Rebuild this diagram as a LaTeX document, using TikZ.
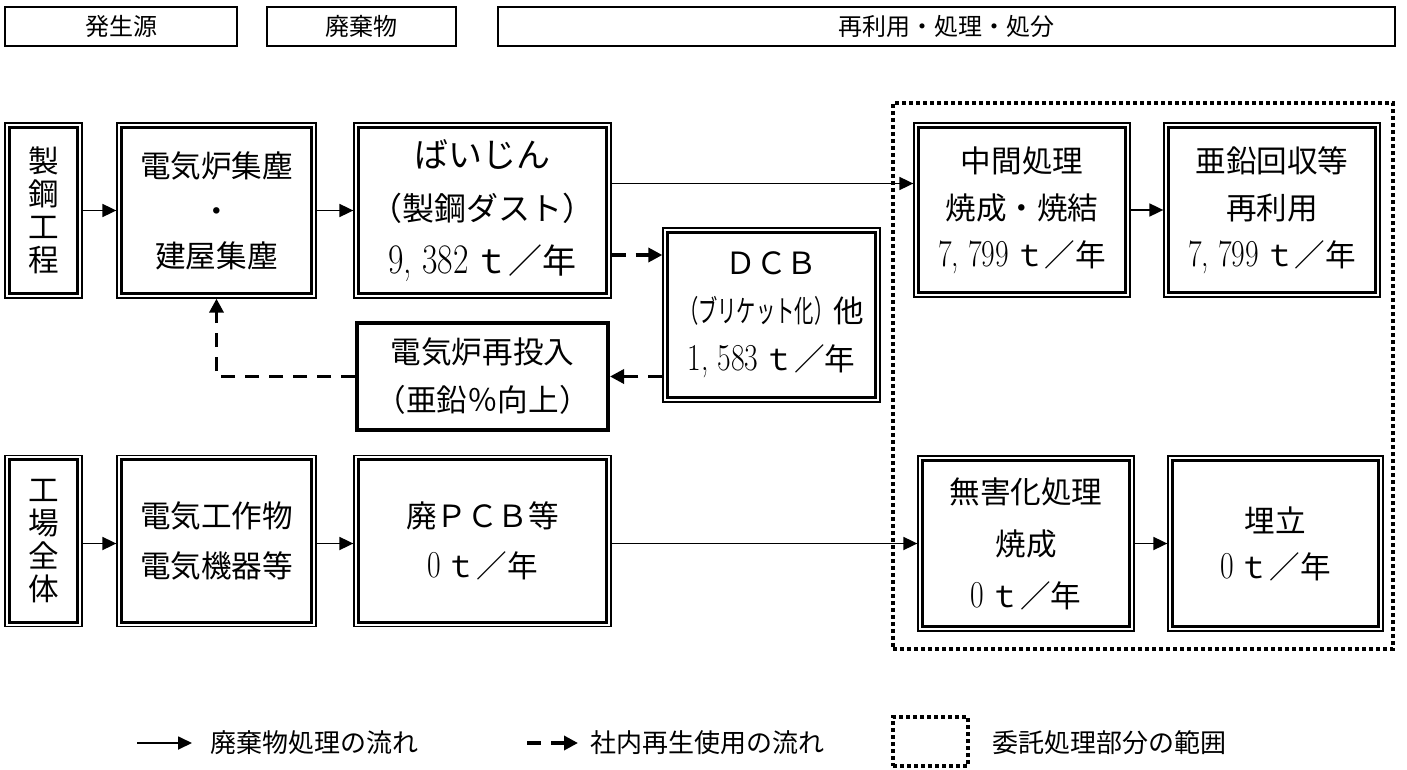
\documentclass[tikz,border=0pt]{standalone}
\usepackage{fontspec}
\usepackage{graphicx}
\newfontfamily\cjk{Noto Sans CJK JP}
\usetikzlibrary{arrows.meta}
\newcommand\nm[1]{\scalebox{0.78}[1]{\fontsize{19}{19}\selectfont\rmfamily #1}}
\newcommand\nmc[1]{\scalebox{0.8}[1]{\fontsize{21}{21}\selectfont\rmfamily #1}}
\begin{document}
\begin{tikzpicture}[x=0.5pt,y=-0.5pt,
  hdr/.style={draw, line width=0.65pt, inner sep=0pt, font=\fontsize{12}{14}\selectfont\cjk},
  dbox/.style={draw, line width=0.65pt, inner sep=0pt, align=center},
  fs/.style={font=\fontsize{15.3}{#1}\selectfont\cjk},
  sz/.style 2 args={minimum width=#1*0.5pt, minimum height=#2*0.5pt},
  arr/.style={line width=0.9pt, -{Triangle[length=7pt,width=6.5pt]}},
  dsh/.style={line width=1.7pt, dash pattern=on 7pt off 5pt, -{Triangle[length=7pt,width=7pt]}},
  dotf/.style={draw, line width=1.9pt, dash pattern=on 1.9pt off 1.6pt, inner sep=0pt},
  lg/.style={inner sep=0pt, font=\fontsize{13}{15}\selectfont\cjk},
]
\useasboundingbox (0,0) rectangle (1407,770);

% headers
\node[hdr, sz={232}{39}] (h1) at (121,26.5) {発生源};
\node[hdr, sz={189}{39}] (h2) at (361.5,26.5) {廃棄物};
\node[hdr, sz={897}{39}] (h3) at (946.5,26.5) {再利用・処理・処分};

% dotted frame
\node[dotf, sz={500}{546}] (R) at (1143,376) {};

% boxes
\node[dbox, fs=16.5pt, sz={77}{175}] (A) at (43.5,210.5) {製\\鋼\\工\\程};
\node[dbox, fs=22.5pt, sz={199}{175}] (B) at (216.5,210.5) {電気炉集塵\\・\\建屋集塵};
\node[dbox, font=\fontsize{17}{26.5pt}\selectfont\cjk, sz={257}{175}] (C) at (482.5,210.5) {ばいじん\\{\fontsize{16}{26.5pt}\selectfont （製鋼ダスト）}\\\nmc{9, 382}\,ｔ／年};
\node[dbox, fs=24pt, sz={217}{174}] (D) at (771.5,315) {ＤＣＢ\\\scalebox{0.63}[1]{（ブリケット化）}他\\\nm{1, 583}\,ｔ／年};
\node[draw, line width=2pt, inner sep=0pt, align=center, fs=24pt, sz={251}{107}] (E) at (482.5,376.5) {電気炉再投入\\（亜鉛％向上）};
\node[dbox, fs=23.5pt, sz={216}{174}] (F) at (1022,210) {中間処理\\焼成・焼結\\\nm{7, 799}\,ｔ／年};
\node[dbox, fs=23.5pt, sz={216}{174}] (G) at (1272,210) {亜鉛回収等\\再利用\\\nm{7, 799}\,ｔ／年};
\node[dbox, fs=16.5pt, sz={77}{171}] (H) at (43.5,541) {工\\場\\全\\体};
\node[dbox, fs=25pt, sz={199}{171}] (I) at (216.5,541) {電気工作物\\電気機器等};
\node[dbox, fs=25pt, sz={257}{171}] (J) at (482.5,541) {廃ＰＣＢ等\\\nm{0}\,ｔ／年};
\node[dbox, fs=26pt, sz={216}{175}] (K) at (1026,543.5) {無害化処理\\焼成\\\nm{0}\,ｔ／年};
\node[dbox, fs=23pt, sz={215}{175}] (L) at (1275.5,543.5) {埋立\\\nm{0}\,ｔ／年};

% inner thick lines of double borders
\foreach \n in {A,B,C,D,F,G,H,I,J,K,L}
  \draw[line width=1.4pt] ([xshift=2.4pt,yshift=-2.4pt]\n.north west) rectangle ([xshift=-2.4pt,yshift=2.4pt]\n.south east);

% connectors
\draw[arr] (A) -- (B);
\draw[arr] (B) -- (C);
\draw[arr] ([yshift=13.5pt]C.east) -- ([yshift=13.5pt]C.east -| F.west);
\draw[arr] (F) -- (G);
\draw[dsh] ([yshift=-22.25pt]C.east) -- ([yshift=-22.25pt]C.east -| D.west);
\draw[dsh] (D.west |- E.east) -- (E.east);
\draw[dsh] (E.west) -| (B.south);
\draw[arr] (H.east |- K.west) -- (I.west |- K.west);
\draw[arr] (I.east |- K.west) -- (J.west |- K.west);
\draw[arr] (J.east |- K.west) -- (K.west);
\draw[arr] (K) -- (L);

% legend
\coordinate (la1) at (137,743);
\coordinate (la2) at (192,743);
\draw[arr] (la1) -- (la2);
\node[lg, anchor=west] (lt1) at (210,743) {廃棄物処理の流れ};
\coordinate (lb1) at (527,743);
\coordinate (lb2) at (578,743);
\draw[dsh] (lb1) -- (lb2);
\node[lg, anchor=west] (lt2) at (590,743) {社内再生使用の流れ};
\node[dotf, sz={75}{49}] (lr) at (930.5,741.5) {};
\node[lg, anchor=west] (lt3) at (992,743) {委託処理部分の範囲};
\end{tikzpicture}
\end{document}
